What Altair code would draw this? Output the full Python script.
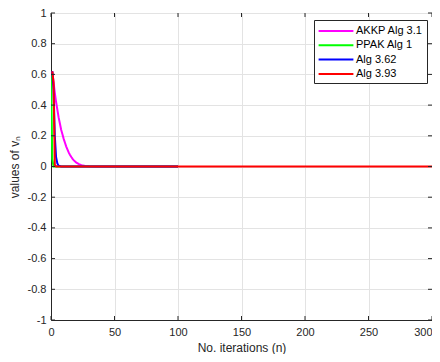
import altair as alt
import pandas as pd

series_names = ["AKKP Alg 3.1", "PPAK Alg 1", "Alg 3.62", "Alg 3.93"]
series_colors = ["#ff00ff", "#00ff00", "#0000ff", "#ff0000"]

akkp_n = [1, 2, 3, 4, 5, 6, 7, 8, 9, 10, 11, 12, 13, 14, 15, 16, 17, 18, 19, 20, 22, 24, 27, 30, 35, 40, 100]
akkp_v = [0.62, 0.55, 0.48, 0.42, 0.37, 0.32, 0.28, 0.24, 0.21, 0.18, 0.155, 0.13, 0.11, 0.09, 0.075, 0.062,
          0.05, 0.04, 0.032, 0.025, 0.015, 0.009, 0.004, 0.002, 0.0005, 0.0, 0.0]
ppak_n = [0, 1, 2, 100]
ppak_v = [0.6, 0.05, 0.0, 0.0]
alg362_n = [1, 2, 3, 4, 5, 6, 8, 100]
alg362_v = [0.62, 0.5, 0.2, 0.06, 0.02, 0.005, 0.0, 0.0]
alg393_n = [1, 2, 3, 4, 300]
alg393_v = [0.62, 0.55, 0.01, 0.0, 0.0]

x_ticks = [0, 50, 100, 150, 200, 250, 300]
y_ticks = [-1, -0.8, -0.6, -0.4, -0.2, 0, 0.2, 0.4, 0.6, 0.8, 1]

frames = []
for name, ns, vs in zip(series_names, [akkp_n, ppak_n, alg362_n, alg393_n],
                        [akkp_v, ppak_v, alg362_v, alg393_v]):
    frames.append(pd.DataFrame({"n": ns, "v": vs, "series": name}))
df = pd.concat(frames, ignore_index=True)

W, H = 381, 307
axis_col = "#262626"

x_scale = alt.Scale(domain=[0, 300], nice=False, zero=False)
y_scale = alt.Scale(domain=[-1, 1], nice=False, zero=False)

x_axis = alt.Axis(values=x_ticks, title="No. iterations (n)", grid=True, ticks=False, labelOverlap=False,
                  labelFlush=False, labelPadding=6, titlePadding=5, labelExpr="'' + datum.value",
                  labelAlign=alt.ExprRef(expr="datum.value >= 300 ? 'right' : 'center'"))
y_axis = alt.Axis(values=y_ticks, title="values of vₙ", grid=True, ticks=False, labelOverlap=False,
                  labelFlush=False, labelPadding=5, titlePadding=6, labelExpr="'' + datum.value")

x_enc = alt.X("n:Q", scale=x_scale, axis=x_axis)
y_enc = alt.Y("v:Q", scale=y_scale, axis=y_axis)
color_enc = alt.Color("series:N", sort=series_names,
                      scale=alt.Scale(domain=series_names, range=series_colors),
                      legend=alt.Legend(title=None, orient="none", legendX=263, legendY=7,
                                        strokeColor=axis_col, fillColor="white",
                                        padding=4, symbolType="M-2.9,0L2.9,0", symbolSize=144,
                                        symbolStrokeWidth=2, symbolOffset=11, labelFontSize=11,
                                        labelColor="#000000", rowPadding=2.3,
                                        labelOffset=13, labelLimit=200))

layers = []
for name in series_names:
    layers.append(
        alt.Chart(df).transform_filter(alt.datum.series == name)
        .mark_line(strokeWidth=2, clip=True)
        .encode(x=x_enc, y=y_enc, color=color_enc)
    )

xt = pd.DataFrame({"t": x_ticks})
yt = pd.DataFrame({"t": y_ticks})
tick_len = 4
xb = alt.Chart(xt).mark_rule(color=axis_col).encode(
    x=alt.X("t:Q", scale=x_scale, axis=x_axis), y=alt.value(H), y2=alt.value(H - tick_len))
xtop = alt.Chart(xt).mark_rule(color=axis_col).encode(
    x=alt.X("t:Q", scale=x_scale, axis=x_axis), y=alt.value(0), y2=alt.value(tick_len))
yl = alt.Chart(yt).mark_rule(color=axis_col).encode(
    y=alt.Y("t:Q", scale=y_scale, axis=y_axis), x=alt.value(0), x2=alt.value(tick_len))
yr = alt.Chart(yt).mark_rule(color=axis_col).encode(
    y=alt.Y("t:Q", scale=y_scale, axis=y_axis), x=alt.value(W), x2=alt.value(W - tick_len))

chart = alt.layer(*layers, xb, xtop, yl, yr).properties(
    width=W, height=H,
    autosize=alt.AutoSizeParams(type="none"),
    padding={"left": 43, "top": 5, "right": 0, "bottom": 34},
).configure_view(stroke=axis_col, strokeWidth=1).configure_axis(
    domainColor=axis_col, labelColor=axis_col, titleColor=axis_col,
    gridColor="#e3e3e3", gridWidth=1, labelFontSize=11, titleFontSize=12,
    labelFont="Liberation Sans", titleFont="Liberation Sans", titleFontWeight="normal",
    labelOverlap=False,
).configure_legend(labelFont="Liberation Sans")

chart.save("out.html", embed_options={"renderer": "svg", "actions": False})
